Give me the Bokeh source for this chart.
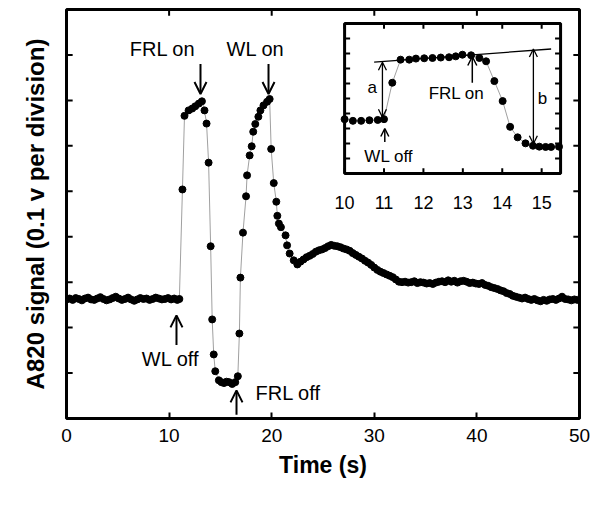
from bokeh.plotting import figure
from bokeh.models import Range1d, FixedTicker, Arrow, OpenHead, Label
from bokeh.core.properties import value
from bokeh.embed import file_html
from bokeh.resources import INLINE

FONT = "Liberation Sans"

# ---------------- data (main trace: time in s, signal in divisions) -------------
main_t = [0.0, 0.3, 0.6, 0.9, 1.2, 1.5, 1.8, 2.1, 2.4, 2.7, 3.0, 3.3, 3.6, 3.9,
          4.2, 4.5, 4.8, 5.1, 5.4, 5.7, 6.0, 6.3, 6.6, 6.9, 7.2, 7.5, 7.8, 8.1,
          8.4, 8.7, 9.0, 9.3, 9.6, 9.9, 10.2, 10.5, 10.8, 11.0,
          11.3, 11.5, 11.9, 12.25, 12.55, 12.9, 13.2, 13.45, 13.65, 13.85,
          14.05, 14.2, 14.35, 14.5, 14.85, 15.1, 15.35, 15.6, 15.85, 16.15,
          16.45, 16.7, 16.85, 16.95, 17.2, 17.5, 17.6, 17.85, 18.05, 18.2,
          18.4, 18.7, 18.9, 19.2, 19.55, 19.8, 19.95, 20.2, 20.45, 20.55,
          20.7, 20.9, 21.35, 21.5, 21.75, 22.15, 22.5,
          22.8, 23.1, 23.4, 23.7, 24.0, 24.3, 24.6, 24.9, 25.2, 25.5, 25.8,
          26.1, 26.4, 26.7, 27.0, 27.3, 27.6, 27.9, 28.2, 28.5, 28.8, 29.1,
          29.4, 29.7, 30.0, 30.3, 30.6, 30.9, 31.2, 31.5, 31.8, 32.1, 32.4,
          32.7, 33.0, 33.3, 33.6, 33.9, 34.2, 34.5, 34.8, 35.1, 35.4, 35.7,
          36.0, 36.3, 36.6, 36.9, 37.2, 37.5, 37.8, 38.1, 38.4, 38.7, 39.0,
          39.3, 39.6, 39.9, 40.2, 40.5, 40.8, 41.1, 41.4, 41.7, 42.0, 42.3,
          42.6, 42.9, 43.2, 43.5, 43.8, 44.1, 44.4, 44.7, 45.0, 45.3, 45.6,
          45.9, 46.2, 46.5, 46.8, 47.1, 47.4, 47.7, 48.0, 48.3, 48.6, 48.9,
          49.2, 49.5, 49.8]
main_s = [2.62, 2.64, 2.61, 2.65, 2.63, 2.60, 2.64, 2.66, 2.62, 2.61, 2.64,
          2.67, 2.63, 2.60, 2.62, 2.65, 2.68, 2.64, 2.61, 2.63, 2.66, 2.62,
          2.59, 2.62, 2.65, 2.63, 2.64, 2.61, 2.63, 2.66, 2.64, 2.62, 2.63,
          2.65, 2.62, 2.64, 2.61, 2.63,
          5.04, 6.66, 6.78, 6.82, 6.87, 6.93, 6.98, 6.78, 6.49, 5.63,
          3.79, 2.18, 1.41, 1.04, 0.84, 0.80, 0.78, 0.81, 0.80, 0.76,
          0.80, 0.93, 1.87, 3.10, 4.09, 4.89, 5.35, 5.79, 5.99, 6.31,
          6.48, 6.64, 6.78, 6.89, 6.97, 7.03, 5.93, 5.18, 4.77, 4.46,
          4.29, 4.21, 4.03, 3.81, 3.63, 3.48, 3.39,
          3.45, 3.50, 3.55, 3.58, 3.62, 3.67, 3.70, 3.72, 3.75, 3.79, 3.82,
          3.80, 3.79, 3.77, 3.74, 3.72, 3.69, 3.64, 3.60, 3.56, 3.52, 3.47,
          3.43, 3.38, 3.32, 3.27, 3.23, 3.20, 3.17, 3.14, 3.11, 3.06, 3.01,
          3.00, 3.01, 2.99, 3.00, 3.02, 2.98, 3.00, 2.99, 2.97, 2.98, 2.96,
          2.99, 3.01, 3.02, 3.00, 3.04, 3.01, 3.03, 2.99, 3.02, 3.03, 3.01,
          2.98, 2.99, 2.97, 2.96, 2.98, 2.94, 2.92, 2.89, 2.87, 2.85, 2.82,
          2.80, 2.76, 2.74, 2.70, 2.68, 2.66, 2.64, 2.66, 2.63, 2.61, 2.63,
          2.60, 2.58, 2.61, 2.59, 2.62, 2.63, 2.61, 2.64, 2.68, 2.63, 2.62,
          2.60, 2.62, 2.61]

# inset trace
inset_t = [10.00, 10.21, 10.42, 10.63, 10.84, 11.00, 11.21, 11.42, 11.64,
           11.81, 12.02, 12.23, 12.44, 12.65, 12.82, 12.99, 13.21, 13.42,
           13.59, 13.80, 14.01, 14.20, 14.39, 14.59, 14.78, 14.94, 15.10,
           15.24, 15.44]
inset_s = [3.62, 3.51, 3.51, 3.55, 3.57, 3.62, 6.05, 7.59, 7.59, 7.66, 7.68,
           7.70, 7.73, 7.75, 7.81, 7.92, 7.88, 7.70, 7.48, 6.16, 4.83, 3.11,
           2.41, 2.01, 1.85, 1.79, 1.77, 1.77, 1.79]
fit_t = [10.75, 15.24]
fit_s = [7.42, 8.30]

x_ticks = [0, 10, 20, 30, 40, 50]
y_ticks = [1, 2, 3, 4, 5, 6, 7, 8]
inset_x_ticks = [10, 11, 12, 13, 14, 15]
inset_y_ticks = [1, 2, 3, 4, 5, 6, 7, 8, 9]
inset_xlim = [10.0, 15.48]
inset_ylim = [0.0, 10.0]
x_lim = [0, 50]
y_lim = [0, 9]

# ---------------- figure -------------
p = figure(width=591, height=500, x_range=Range1d(*x_lim), y_range=Range1d(*y_lim),
           output_backend="svg", toolbar_location=None, title=None,
           min_border_left=66, min_border_right=12, min_border_top=9,
           min_border_bottom=82)
# inset coordinates mapped over the main frame
p.extra_x_ranges = {"ix": Range1d(2.944, 15.96)}
p.extra_y_ranges = {"iy": Range1d(-16.333, 10.933)}

p.xgrid.grid_line_color = None
p.ygrid.grid_line_color = None
p.outline_line_color = "black"
p.outline_line_width = 3
p.outline_line_alpha = 1
p.background_fill_color = "white"
p.border_fill_color = "white"

xa = p.xaxis[0]
xa.ticker = FixedTicker(ticks=x_ticks)
xa.axis_line_color = None
xa.major_tick_in = 6
xa.major_tick_out = 0
xa.major_tick_line_width = 2
xa.minor_tick_line_color = None
xa.major_label_text_font = FONT
xa.major_label_text_font_size = "19px"
xa.major_label_text_color = "black"
xa.major_label_standoff = 10
xa.axis_label = "Time (s)"
xa.axis_label_text_font = FONT
xa.axis_label_text_font_style = "bold"
xa.axis_label_text_font_size = "23px"
xa.axis_label_text_color = "black"
xa.axis_label_standoff = 7

ya = p.yaxis[0]
ya.ticker = FixedTicker(ticks=[])
ya.axis_line_color = None
ya.major_tick_line_color = None
ya.minor_tick_line_color = None
ya.axis_label = "A820 signal (0.1 v per division)"
ya.axis_label_text_font = FONT
ya.axis_label_text_font_style = "bold"
ya.axis_label_text_font_size = "24px"
ya.axis_label_text_color = "black"
ya.axis_label_standoff = 18

# inward ticks on left, right and top of the main frame
mdx = 0.6
mdy = 0.135
ny = len(y_ticks)
nx = len(x_ticks)
p.segment(x0=[x_lim[0]] * ny, y0=y_ticks, x1=[x_lim[0] + mdx] * ny, y1=y_ticks,
          line_color="black", line_width=2)
p.segment(x0=[x_lim[1]] * ny, y0=y_ticks, x1=[x_lim[1] - mdx] * ny, y1=y_ticks,
          line_color="black", line_width=2)
p.segment(x0=x_ticks, y0=[y_lim[1]] * nx, x1=x_ticks, y1=[y_lim[1] - mdy] * nx,
          line_color="black", line_width=2)

# main trace
p.line(main_t, main_s, line_color="#a0a0a0", line_width=1)
p.scatter(main_t, main_s, size=7, fill_color="black", line_color="black")

# ---------------- inset -------------
IR = dict(x_range_name="ix", y_range_name="iy")
p.quad(left=[inset_xlim[0]], right=[inset_xlim[1]], bottom=[inset_ylim[0]],
       top=[inset_ylim[1]], fill_color="white", line_color="black",
       line_width=3, **IR)
tick_dx = 0.14
tick_dy = 0.35
ix_n = len(inset_x_ticks)
iy_n = len(inset_y_ticks)
p.segment(x0=inset_x_ticks, y0=[inset_ylim[0]] * ix_n, x1=inset_x_ticks,
          y1=[inset_ylim[0] + tick_dy] * ix_n, line_color="black", line_width=2, **IR)
p.segment(x0=inset_x_ticks, y0=[inset_ylim[1]] * ix_n, x1=inset_x_ticks,
          y1=[inset_ylim[1] - tick_dy] * ix_n, line_color="black", line_width=2, **IR)
p.segment(x0=[inset_xlim[0]] * iy_n, y0=inset_y_ticks, x1=[inset_xlim[0] + tick_dx] * iy_n,
          y1=inset_y_ticks, line_color="black", line_width=2, **IR)
p.segment(x0=[inset_xlim[1]] * iy_n, y0=inset_y_ticks, x1=[inset_xlim[1] - tick_dx] * iy_n,
          y1=inset_y_ticks, line_color="black", line_width=2, **IR)
p.text(x=inset_x_ticks, y=[-1.95] * ix_n, text=[str(v) for v in inset_x_ticks],
       text_align="center", text_baseline="middle", text_font=value(FONT),
       text_font_size=value("18px"), text_color="black", **IR)

p.line(inset_t, inset_s, line_color="#a0a0a0", line_width=1, **IR)
p.scatter(inset_t, inset_s, size=7, fill_color="black", line_color="black", **IR)
p.line(fit_t, fit_s, line_color="black", line_width=1.3, **IR)


def arrow(x0, y0, x1, y1, both=False, size=12, lw=2, ranges=None):
    kw = dict(x_start=x0, y_start=y0, x_end=x1, y_end=y1, line_width=lw,
              line_color="black",
              end=OpenHead(size=size, line_width=lw, line_color="black"))
    if both:
        kw["start"] = OpenHead(size=size, line_width=lw, line_color="black")
    if ranges:
        kw.update(ranges)
    p.add_layout(Arrow(**kw))


def label(x, y, text, size, ranges=None, align="center"):
    kw = dict(x=x, y=y, text=text, text_align=align, text_baseline="middle",
              text_font=FONT, text_font_size=size, text_color="black")
    if ranges:
        kw.update(ranges)
    p.add_layout(Label(**kw))


# main annotations
label(9.36, 8.13, "FRL on", "20px")
label(18.42, 8.13, "WL on", "20px")
arrow(13.06, 7.80, 13.06, 7.14)
arrow(19.69, 7.80, 19.69, 7.14)
arrow(10.72, 1.62, 10.72, 2.27)
label(10.14, 1.30, "WL off", "20px")
arrow(16.57, 0.08, 16.57, 0.62)
label(21.6, 0.57, "FRL off", "20px")

# inset annotations
arrow(10.96, 3.75, 10.96, 7.42, both=True, size=8, lw=1.3, ranges=IR)
label(10.70, 5.75, "a", "17px", ranges=IR)
arrow(14.79, 8.30, 14.79, 1.98, both=True, size=8, lw=1.3, ranges=IR)
label(15.02, 4.98, "b", "17px", ranges=IR)
arrow(13.24, 6.05, 13.24, 7.80, size=9, lw=1.5, ranges=IR)
label(12.84, 5.31, "FRL on", "17px", ranges=IR)
arrow(11.02, 2.10, 11.02, 3.0, size=8, lw=1.5, ranges=IR)
label(11.12, 1.13, "WL off", "17px", ranges=IR)

open("out.html", "w").write(file_html(p, INLINE))
